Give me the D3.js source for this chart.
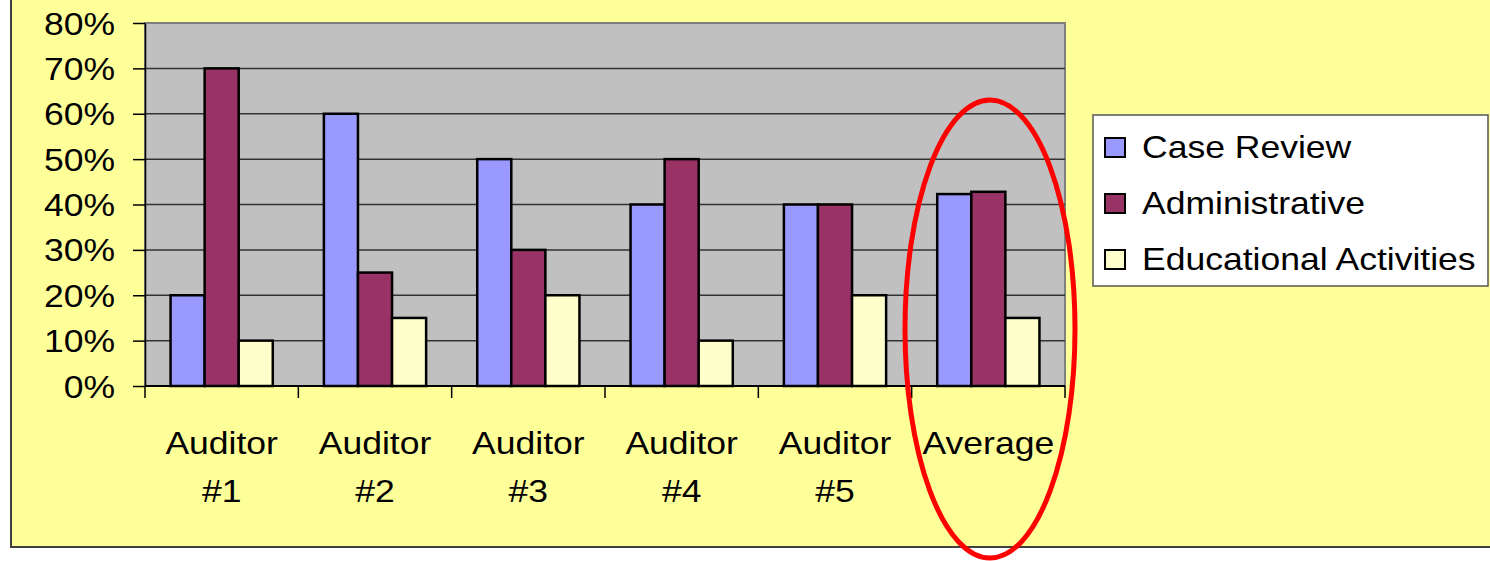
<!DOCTYPE html>
<html>
<head>
<meta charset="utf-8">
<script src="https://cdn.jsdelivr.net/npm/d3@7"></script>
<style>
  html, body { margin: 0; padding: 0; background: #fff; }
  svg { display: block; }
  text { font-family: "Liberation Sans", Arial, sans-serif; fill: #000; }
</style>
</head>
<body>
<svg width="1490" height="561"></svg>
<script>
var categories = [["Auditor", "#1"], ["Auditor", "#2"], ["Auditor", "#3"], ["Auditor", "#4"], ["Auditor", "#5"], ["Average"]];
var seriesNames = ["Case Review", "Administrative", "Educational Activities"];
var caseReview = [0.20, 0.60, 0.50, 0.40, 0.40, 0.423];
var administrative = [0.70, 0.25, 0.30, 0.50, 0.40, 0.428];
var educational = [0.10, 0.15, 0.20, 0.10, 0.20, 0.15];
var yTicks = [0, 0.1, 0.2, 0.3, 0.4, 0.5, 0.6, 0.7, 0.8];
var colors = ["#9999FF", "#993366", "#FFFFCC"];

var svg = d3.select("svg");
var fontSize = 32, stretch = 1.11;

// chart area background
svg.append("rect")
    .attr("x", 11).attr("y", -5)
    .attr("width", 1490).attr("height", 552)
    .attr("fill", "#FFFF99")
    .attr("stroke", "#404040").attr("stroke-width", 2);

var plotL = 145, plotR = 1065, plotT = 23, plotB = 386;

var x0 = d3.scaleBand()
    .domain(d3.range(categories.length))
    .range([plotL, plotR])
    .padding(0);

var x1 = d3.scaleBand()
    .domain(d3.range(seriesNames.length))
    .range([0, x0.bandwidth()])
    .paddingInner(0)
    .paddingOuter(0.75);

var y = d3.scaleLinear().domain([0, 0.8]).range([plotB, plotT]);

// plot area
svg.append("rect")
    .attr("x", plotL).attr("y", plotT)
    .attr("width", plotR - plotL).attr("height", plotB - plotT)
    .attr("fill", "#C0C0C0")
    .attr("stroke", "#808080").attr("stroke-width", 2);

// gridlines
svg.append("g")
    .selectAll("line")
    .data(yTicks.slice(1, -1))
    .enter().append("line")
      .attr("x1", plotL).attr("x2", plotR)
      .attr("y1", function(d) { return y(d); })
      .attr("y2", function(d) { return y(d); })
      .attr("stroke", "#333").attr("stroke-width", 1.5);

// bars
var values = [caseReview, administrative, educational];
var rows = [];
values.forEach(function(arr, s) {
  arr.forEach(function(v, i) { rows.push({s: s, i: i, v: v}); });
});

svg.append("g")
    .selectAll("rect")
    .data(rows)
    .enter().append("rect")
      .attr("x", function(d) { return x0(d.i) + x1(d.s); })
      .attr("y", function(d) { return y(d.v); })
      .attr("width", x1.bandwidth())
      .attr("height", function(d) { return plotB - y(d.v); })
      .attr("fill", function(d) { return colors[d.s]; })
      .attr("stroke", "#000").attr("stroke-width", 2.5);

// y axis
var yAxis = svg.append("g")
    .attr("transform", "translate(" + plotL + ",0)")
    .call(d3.axisLeft(y).tickValues(yTicks).tickSize(12).tickSizeOuter(0).tickFormat(""));
yAxis.select(".domain").attr("stroke", "#000").attr("stroke-width", 1.5);
yAxis.selectAll(".tick line").attr("stroke", "#000").attr("stroke-width", 1.5);

svg.append("g")
    .selectAll("text")
    .data(yTicks)
    .enter().append("text")
      .attr("transform", function(d) { return "translate(115," + (y(d) + 11.5) + ") scale(" + stretch + ",1)"; })
      .attr("text-anchor", "end")
      .style("font-size", fontSize + "px")
      .text(d3.format(".0%"));

// x axis
var boundaries = d3.range(categories.length + 1).map(function(i) { return plotL + i * x0.step(); });
svg.append("line")
    .attr("x1", plotL).attr("x2", plotR)
    .attr("y1", plotB).attr("y2", plotB)
    .attr("stroke", "#000").attr("stroke-width", 2);
svg.append("g")
    .selectAll("line")
    .data(boundaries)
    .enter().append("line")
      .attr("x1", function(d) { return d; }).attr("x2", function(d) { return d; })
      .attr("y1", plotB).attr("y2", plotB + 12)
      .attr("stroke", "#000").attr("stroke-width", 1.5);

var xLabels = svg.append("g")
    .selectAll("g")
    .data(categories)
    .enter().append("g")
      .attr("transform", function(d, i) { return "translate(" + (x0(i) + x0.bandwidth() / 2) + ",0)"; });

xLabels.selectAll("text")
    .data(function(d) { return d; })
    .enter().append("text")
      .attr("transform", function(d, j) { return "translate(0," + (454 + j * 48) + ") scale(" + stretch + ",1)"; })
      .attr("text-anchor", "middle")
      .style("font-size", fontSize + "px")
      .text(function(d) { return d; });

// legend
var legend = svg.append("g").attr("transform", "translate(1093,115)");
legend.append("rect")
    .attr("width", 395).attr("height", 171)
    .attr("fill", "#fff")
    .attr("stroke", "#555").attr("stroke-width", 1.5);

var item = legend.selectAll(".item")
    .data(seriesNames)
    .enter().append("g")
      .attr("class", "item")
      .attr("transform", function(d, i) { return "translate(0," + (i * 56) + ")"; });

item.append("rect")
    .attr("x", 12).attr("y", 23)
    .attr("width", 20).attr("height", 19)
    .attr("fill", function(d, i) { return colors[i]; })
    .attr("stroke", "#000").attr("stroke-width", 2);

item.append("text")
    .attr("transform", "translate(49,43) scale(" + stretch + ",1)")
    .style("font-size", fontSize + "px")
    .text(function(d) { return d; });

// highlight around the average
svg.append("ellipse")
    .attr("cx", 990).attr("cy", 329)
    .attr("rx", 85).attr("ry", 229)
    .attr("fill", "none")
    .attr("stroke", "#FF0000").attr("stroke-width", 5);
</script>
</body>
</html>
